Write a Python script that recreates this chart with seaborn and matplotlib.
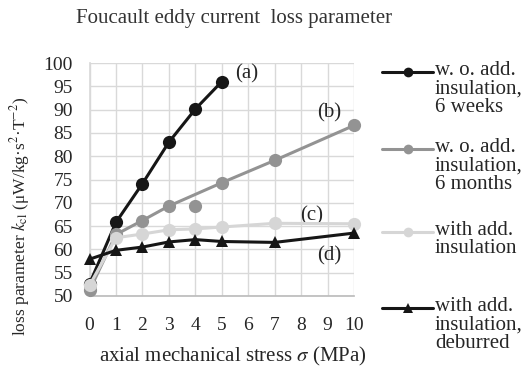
import matplotlib
matplotlib.use("Agg")
import matplotlib.pyplot as plt
from matplotlib.lines import Line2D
import seaborn as sns
import pandas as pd

# Eddy current loss parameter vs. axial stress
stress_a = [0, 1, 2, 3, 4, 5]
kcl_a = [52.6, 65.8, 74.1, 83.0, 90.1, 96.0]

stress_b = [0, 1, 2, 3, 5, 7, 10]
kcl_b = [51.2, 63.2, 66.2, 69.3, 74.3, 79.1, 86.6]
stress_b_extra = [4]
kcl_b_extra = [69.4]

stress_c = [0, 1, 2, 3, 4, 5, 7, 10]
kcl_c = [52.3, 62.5, 63.3, 64.2, 64.4, 64.8, 65.6, 65.5]

stress_d = [0, 1, 2, 3, 4, 5, 7, 10]
kcl_d = [57.9, 59.8, 60.5, 61.6, 62.1, 61.7, 61.5, 63.5]

series_labels = [
    "w. o. add.\ninsulation,\n6 weeks",
    "w. o. add.\ninsulation,\n6 months",
    "with add.\ninsulation",
    "with add.\ninsulation,\ndeburred",
]
curve_tags = ["(a)", "(b)", "(c)", "(d)"]
x_ticks = list(range(0, 11))
y_ticks = list(range(50, 101, 5))

sns.set_theme(style="white")
plt.rcParams["font.family"] = ["Liberation Serif", "DejaVu Serif"]
plt.rcParams["mathtext.fontset"] = "stix"

W, H = 530, 367
fig = plt.figure(figsize=(W / 100, H / 100), dpi=100)
fig.patch.set_facecolor("white")
ax = fig.add_axes([89.5 / W, 1 - 296 / H, (354 - 89.5) / W, (296 - 63) / H])

c_a, c_b, c_c, c_d = "#161616", "#939393", "#d6d6d6", "#161616"
colors = [c_a, c_b, c_c, c_d]
txt = "#262626"
lw = 2.2
ms = 9.5

df_a = pd.DataFrame({"x": stress_a, "y": kcl_a})
df_b = pd.DataFrame({"x": stress_b, "y": kcl_b})
df_c = pd.DataFrame({"x": stress_c, "y": kcl_c})
df_d = pd.DataFrame({"x": stress_d, "y": kcl_d})

# series drawn in order (a), (b), (c), (d), later ones on top
common = dict(ax=ax, x="x", y="y", linewidth=lw, markeredgewidth=0,
              clip_on=False, legend=False)
sns.lineplot(data=df_a, color=c_a, marker="o", markersize=ms, zorder=3, **common)
sns.lineplot(data=df_b, color=c_b, marker="o", markersize=ms, zorder=4, **common)
sns.scatterplot(x=stress_b_extra, y=kcl_b_extra, ax=ax, color=c_b, s=ms ** 2,
                linewidth=0, zorder=4, clip_on=False, legend=False)
sns.lineplot(data=df_c, color=c_c, marker="o", markersize=ms, zorder=5, **common)
sns.lineplot(data=df_d, color=c_d, marker="^", markersize=8.5, zorder=6, **common)

ax.set_xlim(0, 10)
ax.set_ylim(50, 100)
ax.set_xticks(x_ticks)
ax.set_yticks(y_ticks)
ax.grid(True, color="#d9d9d9", linewidth=1.0)
ax.set_axisbelow(True)
for side in ["top", "right"]:
    ax.spines[side].set_visible(False)
ax.spines["left"].set_color("#d9d9d9")
ax.spines["bottom"].set_color("#bdbdbd")
ax.tick_params(axis="both", length=0, labelsize=14, colors=txt)
ax.tick_params(axis="x", pad=15)
ax.tick_params(axis="y", pad=12)
ax.set_xlabel("")
ax.set_ylabel("")

# curve tags
tag_pos = [(5.5, 97.6), (8.62, 89.4), (7.95, 67.2), (8.6, 58.7)]
for t, (tx, ty) in zip(curve_tags, tag_pos):
    ax.text(tx, ty, t, fontsize=15, color=txt, ha="left", va="center")

fig.text(234 / W, 1 - 18 / H, "Foucault eddy current  loss parameter",
         fontsize=15, color="#333333", ha="center", va="center")
fig.text(233 / W, 1 - 356 / H, r"axial mechanical stress $\sigma$ (MPa)",
         fontsize=15, color=txt, ha="center", va="center")
fig.text(20 / W, 1 - 216 / H,
         r"loss parameter $k_{\mathrm{cl}}$ (μW/kg·s$^{2}$·T$^{-2}$)",
         fontsize=12.5, color=txt, ha="center", va="center", rotation=90)

# legend drawn at the right of the plot
leg_y = [72, 149, 232, 308]
markers = ["o", "o", "o", "^"]
for lab, col, mk, yy in zip(series_labels, colors, markers, leg_y):
    yf = 1 - yy / H
    fig.add_artist(Line2D([382 / W, 433 / W], [yf, yf], color=col, linewidth=2.2,
                          transform=fig.transFigure))
    fig.add_artist(Line2D([408 / W], [yf], color=col, marker=mk,
                          markersize=7 if mk == "o" else 7.5, markeredgewidth=0,
                          transform=fig.transFigure))
    fig.text(435 / W, 1 - (yy - 11) / H, lab, fontsize=15, color=txt,
             ha="left", va="top", linespacing=0.95)

fig.savefig("out.png", dpi=100, facecolor="white")
